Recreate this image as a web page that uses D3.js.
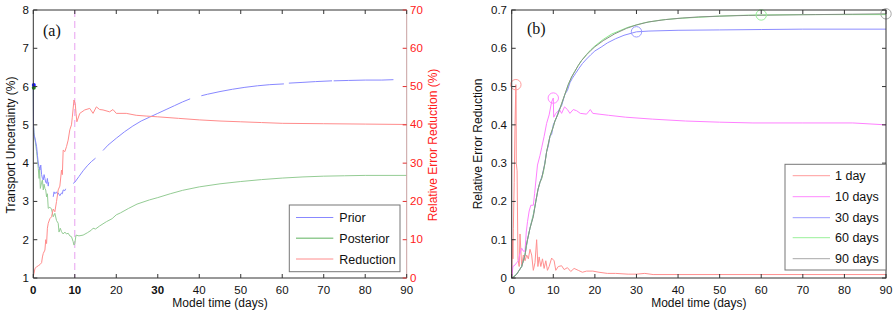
<!DOCTYPE html>
<html><head><meta charset="utf-8">
<script src="https://cdn.jsdelivr.net/npm/d3@7"></script>
<style>
html,body{margin:0;padding:0;background:#fff;}
svg{display:block;font-family:"Liberation Sans",Arial,sans-serif;}
</style></head>
<body><svg id="c" width="896" height="314"></svg>
<script>
// ---------- DATA ----------
const xTicks = [0,10,20,30,40,50,60,70,80,90];
const leftYTicks = [1,2,3,4,5,6,7,8];
const rightYTicksA = [0,10,20,30,40,50,60,70];
const yTicksB = [0,0.1,0.2,0.3,0.4,0.5,0.6,0.7];
const legendA = ["Prior","Posterior","Reduction"];
const legendB = ["1 day","10 days","30 days","60 days","90 days"];

// Panel (a): prior transport uncertainty (%) — null marks gaps in the curve
const priorDays = [0,0.05,0.17,0.5,0.8,1.0,1.2,1.4,1.6,1.8,2.0,2.2,2.4,2.6,2.8,3.0,3.2,3.4,3.6,3.7,4.2,4.8,5.0,5.2,5.6,5.8,6.0,6.4,6.8,7.0,7.2,7.6,7.8,8.7,9.6,10,11,12,13,14,15,16,16.8,18,20,22,24,26,28,30,32,34,36,37.8,39,40.5,42,45,48,51,54,57,60.4,61,61.6,65,68,72,72.2,72.4,76,80,84,86.8];
const priorVals = [6.04,5.0,4.74,4.6,4.43,4.2,4.0,3.9,3.82,3.95,3.7,3.6,3.56,3.7,3.6,3.5,3.47,3.6,3.4,3.5,null,3.12,3.25,3.2,3.25,3.2,3.22,3.15,3.22,3.2,3.3,3.28,3.33,null,3.47,3.5,3.65,3.8,3.93,4.04,4.13,null,4.33,4.47,4.65,4.82,4.97,5.1,5.2,5.3,5.4,5.5,5.6,5.68,null,5.76,5.8,5.87,5.93,5.98,6.02,6.05,6.07,null,6.09,6.11,6.13,6.15,null,6.15,6.16,6.17,6.17,6.18];
// Panel (a): posterior transport uncertainty (%)
const postDays = [0,0.05,0.17,0.5,0.8,1.0,1.2,1.4,1.5,1.7,2.0,2.2,2.4,2.6,2.8,3.0,3.2,3.4,3.6,4.0,4.4,4.8,5.2,5.6,6.0,6.2,6.5,6.8,7.2,7.6,8.0,8.4,8.8,9.2,9.6,9.8,10.0,10.3,11,12,13,14,14.4,15,16,17.6,19,20,21,23,25,28,30,33,36,40,45,50,55,60,65,70,75,80,90];
const postVals = [5.97,5.0,4.8,4.55,4.3,4.1,3.86,3.6,3.9,3.34,3.5,3.56,3.3,3.45,3.34,3.3,3.12,3.2,2.82,2.85,2.8,2.6,2.69,2.5,2.43,2.2,2.3,2.21,2.15,2.2,2.15,2.17,2.1,2.08,1.95,1.86,1.9,2.12,2.1,2.12,2.18,2.25,2.3,2.28,2.36,2.47,2.55,2.65,2.7,2.82,2.93,3.04,3.1,3.2,3.29,3.38,3.46,3.52,3.57,3.61,3.64,3.66,3.67,3.68,3.68];
// Panel (a): relative error reduction (%) on right axis
const redDays = [0,0.17,0.4,0.8,1.2,1.6,2.0,2.2,2.4,2.8,3.0,3.2,3.4,3.6,4.0,4.4,4.8,5.2,5.6,6.0,6.4,6.8,7.0,7.2,7.6,8.0,8.4,8.8,9.2,9.4,9.8,10.1,10.3,10.5,11.2,12.4,13.6,14.4,15.2,16,16.8,18.4,19.2,20,22.4,24.8,27.2,30,35,40,45,50,55,60,70,80,90];
const redVals = [0.5,1.2,2.5,2.9,3.2,3.5,4.0,5.5,6.4,7.3,10,9,13,14.3,15.5,16,18,17.3,20,23,24,28.2,27,33.4,33,34.3,36,38.7,40,42,46.5,45.6,43,40.8,43,43.9,44.3,43,44.7,44,43.9,43.4,44,43,43,42.5,42.3,42.1,41.7,41.3,41,40.8,40.6,40.4,40.3,40.2,40.1];
const initPrior = 6.04, initPost = 5.97;
const windowDay = 10;

// Panel (b): relative error reduction for different assimilation windows
const d1Days = [0,0.2,0.3,0.4,0.6,0.8,1.0,1.05,1.1,1.3,1.5,1.8,2.0,2.4,2.8,3.2,3.6,4.0,4.4,4.8,5.2,5.6,6.0,6.3,6.6,7.0,7.4,7.8,8.2,8.6,9.0,9.6,10.2,10.6,11.2,12.0,12.6,13.4,14.2,15.0,16.0,17.0,18.0,19.5,21,23,25,28,30,32,34,40,60,90];
const d1Vals = [0,0.1,0.05,0.13,0.25,0.4,0.505,0.48,0.3,0.28,0.05,0.03,0.115,0.03,0.06,0.045,0.06,0.05,0.075,0.06,0.02,0.04,0.1,0.03,0.055,0.03,0.05,0.025,0.045,0.02,0.03,0.052,0.045,0.02,0.03,0.032,0.022,0.027,0.017,0.025,0.02,0.015,0.018,0.018,0.015,0.012,0.012,0.01,0.01,0.012,0.009,0.009,0.009,0.009];
const d10Days = [0,0.3,0.8,1.2,1.6,2.0,2.4,2.8,3.2,3.5,3.8,4.2,4.6,5.2,5.5,6.2,6.8,7.2,7.8,8.4,9.0,9.6,10.0,10.1,10.6,11.5,12.0,12.7,13.4,14.0,14.8,15.6,16.5,18.0,18.9,19.5,21,23.3,27.4,33.8,41.8,50,58,70,82,90];
const d10Vals = [0,0.03,0.034,0.04,0.045,0.065,0.078,0.07,0.07,0.12,0.147,0.175,0.19,0.19,0.22,0.295,0.32,0.34,0.37,0.404,0.426,0.46,0.47,0.42,0.43,0.44,0.43,0.447,0.44,0.43,0.44,0.437,0.43,0.428,0.44,0.43,0.428,0.425,0.42,0.415,0.41,0.407,0.405,0.405,0.405,0.40];
const d30Days = [0,1.2,2.4,3.2,3.8,4.4,5.2,5.8,6.4,6.8,7.4,7.8,8.4,8.8,9.2,9.6,10,10.8,11.4,12,12.8,13.4,14,14.6,15.4,16.2,17,18,19,20,21.5,23,25,27,30,33,40,50,60,70,90];
const d30Vals = [0,0.01,0.03,0.06,0.1,0.13,0.165,0.2,0.235,0.25,0.27,0.29,0.33,0.345,0.37,0.375,0.4,0.42,0.44,0.45,0.48,0.49,0.51,0.522,0.535,0.548,0.56,0.572,0.583,0.593,0.603,0.614,0.625,0.634,0.643,0.645,0.647,0.648,0.649,0.65,0.65];
const d60Days = [0,1.2,2.4,3.2,3.8,4.4,5.2,5.8,6.3,6.8,7.2,7.6,8.0,8.4,8.8,9.2,10,10.4,11.2,12,12.8,13.6,14.4,15.2,16,16.8,18,19,20,22,24,28,32,36,40,45,50,55,60,70,80,90];
const d60Vals = [0,0.01,0.03,0.06,0.1,0.13,0.165,0.2,0.23,0.25,0.26,0.275,0.3,0.33,0.35,0.37,0.395,0.41,0.43,0.455,0.48,0.505,0.525,0.54,0.555,0.568,0.584,0.596,0.606,0.623,0.637,0.655,0.667,0.674,0.678,0.681,0.684,0.686,0.687,0.688,0.688,0.688];
const d90Days = [0,0.6,1.2,1.8,2.4,2.8,3.2,3.5,3.8,4.4,5.2,5.8,6.3,6.8,7.2,7.6,8.0,8.4,8.8,9.2,10,10.4,11.2,12,12.8,13.6,14.4,15.2,16,16.8,18,19,20,22,24.8,27.6,30,33,37,41,45,50,57,65,73,82,90];
const d90Vals = [0,0.003,0.01,0.02,0.03,0.045,0.06,0.085,0.1,0.13,0.16,0.2,0.23,0.25,0.26,0.28,0.3,0.33,0.35,0.37,0.395,0.41,0.43,0.455,0.48,0.505,0.525,0.54,0.555,0.568,0.583,0.594,0.604,0.62,0.638,0.652,0.661,0.669,0.675,0.679,0.682,0.684,0.686,0.687,0.688,0.689,0.690];
const markerDays = [1,10,30,60,90];
const markerVals = [0.505,0.47,0.643,0.687,0.69];

// ---------- STYLE ----------
const colA = {prior:"#8888ff", post:"#94cc94", red:"#ff8c8c"};
const colB = ["#ff9090","#ff80ff","#8c8cff","#8aee8a","#869086"];
const legColB = ["#ff9c9c","#ff88ff","#9a9aff","#99f099","#a8a8a8"];
const tickFs = 11.5;

const svg = d3.select("#c");

// ---------- PANEL A ----------
const A = {l:33.3, r:406.7, t:10, b:278};
const xA = d3.scaleLinear().domain([0,90]).range([A.l,A.r]);
const yA = d3.scaleLinear().domain([1,8]).range([A.b,A.t]);
const yAR = d3.scaleLinear().domain([0,70]).range([A.b,A.t]);

const gA = svg.append("g");
function lineFrom(xs, ys, xS, yS){
  return d3.line().defined(d=>d[1]!==null).x(d=>xS(d[0])).y(d=>yS(d[1]))(xs.map((x,i)=>[x,ys[i]]));
}
gA.append("line").attr("x1",xA(windowDay)).attr("x2",xA(windowDay)).attr("y1",A.t).attr("y2",A.b)
  .attr("stroke","#e8a0f0").attr("stroke-dasharray","7,4").attr("stroke-width",1);
gA.append("path").attr("d",lineFrom(postDays,postVals,xA,yA)).attr("fill","none").attr("stroke",colA.post).attr("stroke-width",1);
gA.append("path").attr("d",lineFrom(priorDays,priorVals,xA,yA)).attr("fill","none").attr("stroke",colA.prior).attr("stroke-width",1);
gA.append("path").attr("d",lineFrom(redDays,redVals,xA,yAR)).attr("fill","none").attr("stroke",colA.red).attr("stroke-width",1);
gA.append("circle").attr("cx",xA(0)+0.5).attr("cy",yA(initPost)).attr("r",2).attr("fill","#1a8a1a");
gA.append("circle").attr("cx",xA(0)+0.5).attr("cy",yA(initPrior)).attr("r",2).attr("fill","#1a1aff");

gA.append("line").attr("x1",A.l).attr("x2",A.l).attr("y1",A.t).attr("y2",A.b).attr("stroke","#333");
gA.append("line").attr("x1",A.l).attr("x2",A.r).attr("y1",A.b).attr("y2",A.b).attr("stroke","#333");
gA.append("line").attr("x1",A.l).attr("x2",A.r).attr("y1",A.t).attr("y2",A.t).attr("stroke","#333");
gA.append("line").attr("x1",A.r).attr("x2",A.r).attr("y1",A.t).attr("y2",A.b).attr("stroke","#c8a0a0");

xTicks.forEach(v=>{
  const x = xA(v);
  gA.append("line").attr("x1",x).attr("x2",x).attr("y1",A.b).attr("y2",A.b-4).attr("stroke","#333");
  gA.append("line").attr("x1",x).attr("x2",x).attr("y1",A.t).attr("y2",A.t+4).attr("stroke","#333");
  gA.append("text").attr("x",x).attr("y",294).attr("text-anchor","middle").attr("font-size",tickFs)
    .attr("font-weight",[0,10,30].includes(v)?"bold":"normal").attr("fill","#111").text(v);
});
leftYTicks.forEach(v=>{
  const y = yA(v);
  gA.append("line").attr("x1",A.l).attr("x2",A.l+4).attr("y1",y).attr("y2",y).attr("stroke","#333");
  gA.append("text").attr("x",29).attr("y",y+4).attr("text-anchor","end").attr("font-size",tickFs).attr("fill","#111").text(v);
});
rightYTicksA.forEach(v=>{
  const y = yAR(v);
  gA.append("line").attr("x1",A.r-4).attr("x2",A.r).attr("y1",y).attr("y2",y).attr("stroke","#e03030");
  gA.append("text").attr("x",410).attr("y",y+3.6).attr("text-anchor","start").attr("font-size",tickFs).attr("fill","#ff2020").text(v);
});
gA.append("text").attr("x",(A.l+A.r)/2).attr("y",307).attr("text-anchor","middle").attr("font-size",12).attr("fill","#111").text("Model time (days)");
gA.append("text").attr("transform","translate(15,145) rotate(-90)").attr("text-anchor","middle").attr("font-size",12).attr("fill","#111").text("Transport Uncertainty (%)");
gA.append("text").attr("transform","translate(437,145) rotate(-90)").attr("text-anchor","middle").attr("font-size",12).attr("fill","#ff2020").text("Relative Error Reduction (%)");
gA.append("text").attr("x",43).attr("y",36).attr("font-family",'"Liberation Serif","Times New Roman",serif').attr("font-size",16).attr("fill","#111").text("(a)");

gA.append("rect").attr("x",289.3).attr("y",205).attr("width",110.7).attr("height",66.7).attr("fill","#fff").attr("stroke","#777");
const legAY = [217.5,238.3,259];
const legACol = [colA.prior,colA.post,colA.red];
legendA.forEach((t,i)=>{
  gA.append("line").attr("x1",296).attr("x2",333.3).attr("y1",legAY[i]).attr("y2",legAY[i]).attr("stroke",legACol[i]).attr("stroke-width",i===1?1.6:1);
  gA.append("text").attr("x",339.3).attr("y",legAY[i]+4.5).attr("font-size",12.5).attr("fill","#111").text(t);
});

// ---------- PANEL B ----------
const B = {l:511.7, r:886, t:10, b:278};
const xB = d3.scaleLinear().domain([0,90]).range([B.l,B.r]);
const yB = d3.scaleLinear().domain([0,0.7]).range([B.b,B.t]);
const gB = svg.append("g");
const seriesB = [[d1Days,d1Vals],[d10Days,d10Vals],[d30Days,d30Vals],[d60Days,d60Vals],[d90Days,d90Vals]];
seriesB.forEach((s,i)=>{
  gB.append("path").attr("d",lineFrom(s[0],s[1],xB,yB)).attr("fill","none").attr("stroke",colB[i]).attr("stroke-width",1);
});
markerDays.forEach((d,i)=>{
  gB.append("circle").attr("cx",xB(d)).attr("cy",yB(markerVals[i])).attr("r",5.2).attr("fill","none").attr("stroke",legColB[i]).attr("stroke-width",1);
});
gB.append("rect").attr("x",B.l).attr("y",B.t).attr("width",B.r-B.l).attr("height",B.b-B.t).attr("fill","none").attr("stroke","#333");
xTicks.forEach(v=>{
  const x = xB(v);
  gB.append("line").attr("x1",x).attr("x2",x).attr("y1",B.b).attr("y2",B.b-4).attr("stroke","#333");
  gB.append("line").attr("x1",x).attr("x2",x).attr("y1",B.t).attr("y2",B.t+4).attr("stroke","#333");
  gB.append("text").attr("x",x).attr("y",294).attr("text-anchor","middle").attr("font-size",tickFs).attr("fill","#111").text(v);
});
yTicksB.forEach(v=>{
  const y = yB(v);
  gB.append("line").attr("x1",B.l).attr("x2",B.l+4).attr("y1",y).attr("y2",y).attr("stroke","#333");
  gB.append("line").attr("x1",B.r-4).attr("x2",B.r).attr("y1",y).attr("y2",y).attr("stroke","#333");
  gB.append("text").attr("x",507).attr("y",y+4).attr("text-anchor","end").attr("font-size",tickFs).attr("fill","#111").text(v===0?"0":v.toFixed(1));
});
gB.append("text").attr("x",(B.l+B.r)/2).attr("y",307).attr("text-anchor","middle").attr("font-size",12).attr("fill","#111").text("Model time (days)");
gB.append("text").attr("transform","translate(482,144) rotate(-90)").attr("text-anchor","middle").attr("font-size",12).attr("fill","#111").text("Relative Error Reduction");
gB.append("text").attr("x",527).attr("y",34).attr("font-family",'"Liberation Serif","Times New Roman",serif').attr("font-size",16).attr("fill","#111").text("(b)");

gB.append("rect").attr("x",785).attr("y",164.3).attr("width",101).attr("height",105.7).attr("fill","#fff").attr("stroke","#777");
const legBY = [175.7,196.7,217.7,237.7,258.7];
legendB.forEach((t,i)=>{
  gB.append("line").attr("x1",792.7).attr("x2",830).attr("y1",legBY[i]).attr("y2",legBY[i]).attr("stroke",legColB[i]).attr("stroke-width",1);
  gB.append("text").attr("x",835).attr("y",legBY[i]+4.5).attr("font-size",12.5).attr("fill","#111").text(t);
});
</script></body></html>
